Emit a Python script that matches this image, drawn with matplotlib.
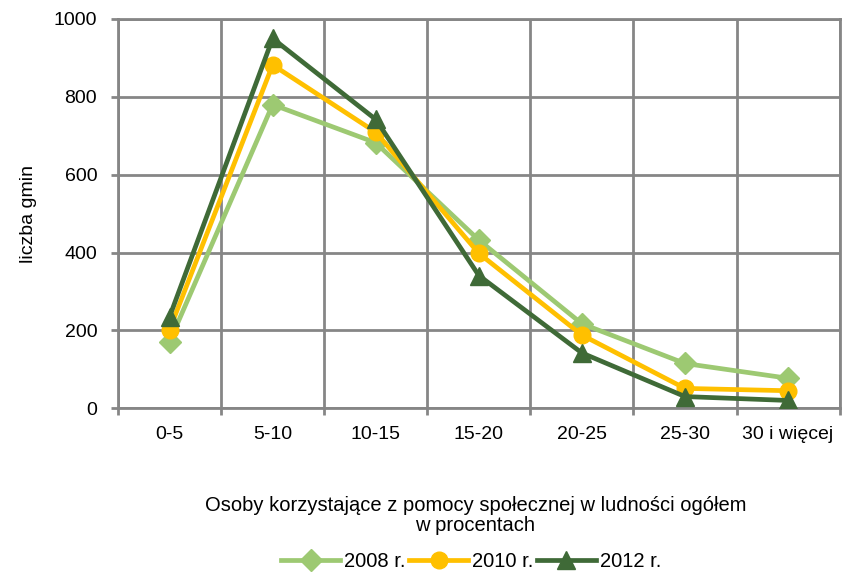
import matplotlib

matplotlib.use("Agg")
import matplotlib.pyplot as plt

plt.rcParams["font.family"] = ["Liberation Sans", "DejaVu Sans"]

CATEGORIES = ["0-5", "5-10", "10-15", "15-20", "20-25", "25-30", "30 i więcej"]
GMINY_2008 = [171, 780, 682, 432, 217, 115, 77]
GMINY_2010 = [202, 882, 709, 398, 188, 51, 45]
GMINY_2012 = [235, 950, 742, 341, 142, 30, 20]

SERIES = [
    ("2008 r.", GMINY_2008, "#9DC972", "D", 11),
    ("2010 r.", GMINY_2010, "#FFC000", "o", 12),
    ("2012 r.", GMINY_2012, "#3F6A37", "^", 13),
]
GRID_COLOR = "#868686"

fig = plt.figure(figsize=(8.49, 5.75), dpi=100)
ax = fig.add_axes([0.139, 0.290, 0.850, 0.677])

x = range(len(CATEGORIES))
for label, values, color, marker, size in SERIES:
    ax.plot(x, values, color=color, linewidth=3.4, marker=marker,
            markersize=size, label=label, zorder=3)

ax.set_xlim(-0.5, len(CATEGORIES) - 0.5)
ax.set_ylim(0, 1000)
ax.set_yticks(range(0, 1001, 200))
ax.set_xticks(x)
ax.set_xticklabels(CATEGORIES)
ax.set_xticks([i - 0.5 for i in range(len(CATEGORIES) + 1)], minor=True)

ax.grid(True, axis="y", color=GRID_COLOR, linewidth=2, zorder=1)
ax.grid(True, axis="x", which="minor", color=GRID_COLOR, linewidth=2, zorder=1)
ax.tick_params(axis="x", which="major", length=0, labelsize=14, pad=13)
ax.tick_params(axis="x", which="minor", length=5, width=2, color=GRID_COLOR)
ax.tick_params(axis="y", length=5, width=2, color=GRID_COLOR, labelsize=14, pad=10)
for spine in ax.spines.values():
    spine.set_color(GRID_COLOR)
    spine.set_linewidth(2)

ax.set_ylabel("liczba gmin", fontsize=14, labelpad=12)
fig.text(0.56, 0.104,
         "Osoby korzystające z pomocy społecznej w ludności ogółem\nw procentach",
         ha="center", va="center", fontsize=14.5, linespacing=1.05)

fig.legend(loc="center", bbox_to_anchor=(0.555, 0.023), ncol=3, frameon=False,
           fontsize=14.5, handlelength=2.9, handletextpad=0.2, columnspacing=0.2,
           borderaxespad=0)

fig.savefig("out.png", dpi=100)
